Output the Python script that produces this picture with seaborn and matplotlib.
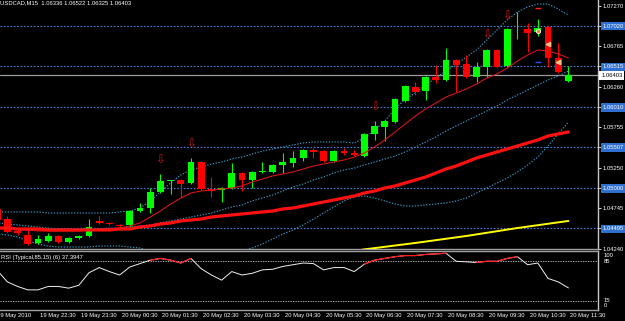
import matplotlib
matplotlib.use("Agg")
import matplotlib.pyplot as plt
import matplotlib.transforms as mtransforms
import numpy as np
import pandas as pd
import seaborn as sns

# ---------------- data ----------------
symbol_header = "USDCAD,M15  1.06336 1.06522 1.06325 1.06403"
rsi_header = "RSI (Typical,85,15) (6) 37.3947"
first_date_label = "19 May 2010"

bar_times = pd.date_range("2010-05-19 21:30", "2010-05-20 11:30", freq="15min")

opens = [1.04738, 1.04613, 1.04464, 1.04414, 1.04315, 1.04340, 1.04402, 1.04327, 1.04377, 1.04402,
         1.04589, 1.04564, 1.04539, 1.04539, 1.04713, 1.04750, 1.04950, 1.05085, 1.05099, 1.05062,
         1.05323, 1.04987, 1.04975, 1.04999, 1.05186, 1.05099, 1.05199, 1.05199, 1.05286, 1.05311,
         1.05373, 1.05473, 1.05460, 1.05336, 1.05460, 1.05435, 1.05398, 1.05672, 1.05759, 1.05821,
         1.06083, 1.06257, 1.06207, 1.06381, 1.06344, 1.06593, 1.06543, 1.06381, 1.06506, 1.06718,
         1.06518, 1.06973, 1.06979, 1.06942, 1.07004, 1.06618, 1.06336]
highs = [1.04763, 1.04651, 1.04489, 1.04477, 1.04414, 1.04439, 1.04414, 1.04389, 1.04414, 1.04613,
         1.04651, 1.04576, 1.04551, 1.04726, 1.04813, 1.04999, 1.05174, 1.05099, 1.05111, 1.05373,
         1.05336, 1.05136, 1.05012, 1.05311, 1.05199, 1.05211, 1.05323, 1.05298, 1.05435, 1.05460,
         1.05485, 1.05497, 1.05473, 1.05473, 1.05497, 1.05473, 1.05684, 1.05834, 1.05846, 1.06120,
         1.06282, 1.06319, 1.06394, 1.06531, 1.06742, 1.06605, 1.06655, 1.06568, 1.06730, 1.06730,
         1.06991, 1.07191, 1.07054, 1.07103, 1.07016, 1.06805, 1.06522]
lows = [1.04576, 1.04439, 1.04414, 1.04290, 1.04302, 1.04327, 1.04315, 1.04315, 1.04364, 1.04389,
        1.04551, 1.04539, 1.04501, 1.04514, 1.04701, 1.04688, 1.04937, 1.04925, 1.04887, 1.05049,
        1.04975, 1.04887, 1.04825, 1.04987, 1.04962, 1.04999, 1.05186, 1.05186, 1.05186, 1.05261,
        1.05336, 1.05373, 1.05323, 1.05323, 1.05410, 1.05398, 1.05385, 1.05597, 1.05585, 1.05809,
        1.06070, 1.06157, 1.06095, 1.06307, 1.06332, 1.06195, 1.06369, 1.06319, 1.06381, 1.06493,
        1.06506, 1.06854, 1.06693, 1.06892, 1.06506, 1.06431, 1.06325]
closes = [1.04601, 1.04452, 1.04439, 1.04302, 1.04364, 1.04402, 1.04327, 1.04377, 1.04402, 1.04514,
          1.04564, 1.04551, 1.04526, 1.04713, 1.04750, 1.04950, 1.05087, 1.05099, 1.05049, 1.05323,
          1.04987, 1.04962, 1.04999, 1.05186, 1.05099, 1.05199, 1.05211, 1.05286, 1.05323, 1.05373,
          1.05473, 1.05448, 1.05336, 1.05460, 1.05435, 1.05410, 1.05672, 1.05771, 1.05834, 1.06107,
          1.06269, 1.06195, 1.06381, 1.06344, 1.06593, 1.06531, 1.06381, 1.06506, 1.06718, 1.06506,
          1.06979, 1.06979, 1.06929, 1.06991, 1.06618, 1.06444, 1.06403]

ma_fast = [1.04489, 1.04489, 1.04477, 1.04477, 1.04464, 1.04464, 1.04464, 1.04464, 1.04464, 1.04477,
           1.04477, 1.04489, 1.04501, 1.04526, 1.04564, 1.04638, 1.04713, 1.04800, 1.04875, 1.04937,
           1.04962, 1.04975, 1.04987, 1.04999, 1.05025, 1.05074, 1.05111, 1.05149, 1.05174, 1.05199,
           1.05236, 1.05273, 1.05298, 1.05323, 1.05348, 1.05385, 1.05435, 1.05510, 1.05597, 1.05697,
           1.05796, 1.05896, 1.05983, 1.06057, 1.06132, 1.06182, 1.06232, 1.06294, 1.06369, 1.06419,
           1.06493, 1.06581, 1.06655, 1.06718, 1.06705, 1.06668, 1.06618]
ma_slow = [1.04501, 1.04501, 1.04489, 1.04489, 1.04489, 1.04477, 1.04477, 1.04477, 1.04477, 1.04477,
           1.04477, 1.04477, 1.04489, 1.04489, 1.04514, 1.04526, 1.04551, 1.04564, 1.04589, 1.04601,
           1.04613, 1.04638, 1.04651, 1.04663, 1.04676, 1.04688, 1.04701, 1.04713, 1.04738, 1.04750,
           1.04775, 1.04800, 1.04825, 1.04850, 1.04875, 1.04900, 1.04937, 1.04962, 1.04999, 1.05025,
           1.05062, 1.05099, 1.05136, 1.05186, 1.05236, 1.05273, 1.05323, 1.05373, 1.05410, 1.05448,
           1.05485, 1.05522, 1.05560, 1.05597, 1.05647, 1.05672, 1.05697]
ma_long_times = ["2010-05-20 05:15", "2010-05-20 06:30", "2010-05-20 07:45",
                 "2010-05-20 09:00", "2010-05-20 10:15", "2010-05-20 11:30"]
ma_long = [1.04130, 1.04235, 1.04315, 1.04402, 1.04501, 1.04589]

band_upper = [1.04701, 1.04701, 1.04701, 1.04701, 1.04701, 1.04688, 1.04688, 1.04688, 1.04688, 1.04688,
              1.04688, 1.04688, 1.04701, 1.04713, 1.04750, 1.04838, 1.04950, 1.05062, 1.05161, 1.05224,
              1.05261, 1.05298, 1.05323, 1.05360, 1.05385, 1.05423, 1.05460, 1.05485, 1.05510, 1.05535,
              1.05560, 1.05572, 1.05572, 1.05572, 1.05572, 1.05560, 1.05622, 1.05722, 1.05834, 1.05983,
              1.06107, 1.06182, 1.06282, 1.06369, 1.06456, 1.06543, 1.06630, 1.06718, 1.06842, 1.06967,
              1.07091, 1.07191, 1.07253, 1.07290, 1.07290, 1.07228, 1.07153]
band_mid = [1.04564, 1.04551, 1.04539, 1.04526, 1.04514, 1.04501, 1.04489, 1.04489, 1.04489, 1.04489,
            1.04489, 1.04501, 1.04501, 1.04514, 1.04526, 1.04539, 1.04564, 1.04589, 1.04613, 1.04638,
            1.04663, 1.04688, 1.04726, 1.04763, 1.04788, 1.04838, 1.04875, 1.04912, 1.04962, 1.05012,
            1.05049, 1.05099, 1.05136, 1.05186, 1.05224, 1.05248, 1.05286, 1.05323, 1.05360, 1.05398,
            1.05448, 1.05510, 1.05572, 1.05634, 1.05709, 1.05771, 1.05834, 1.05896, 1.05958, 1.06020,
            1.06095, 1.06157, 1.06220, 1.06282, 1.06344, 1.06394, 1.06456]
band_lower = [1.04427, 1.04414, 1.04389, 1.04340, 1.04302, 1.04277, 1.04265, 1.04265, 1.04265, 1.04265,
              1.04277, 1.04277, 1.04277, 1.04265, 1.04252, 1.04215, 1.04165, 1.04115, 1.04078, 1.04053,
              1.04053, 1.04078, 1.04115, 1.04165, 1.04215, 1.04252, 1.04302, 1.04364, 1.04427, 1.04477,
              1.04539, 1.04613, 1.04688, 1.04763, 1.04838, 1.04887, 1.04900, 1.04875, 1.04838, 1.04800,
              1.04775, 1.04775, 1.04788, 1.04800, 1.04813, 1.04838, 1.04875, 1.04937, 1.04999, 1.05062,
              1.05124, 1.05199, 1.05286, 1.05385, 1.05522, 1.05672, 1.05821]

rsi_values = [68, 48, 40, 34, 34, 40, 40, 37, 42, 64, 73,
              66, 60, 74, 80, 86, 89, 86, 81, 89, 71,
              60, 51, 66, 60, 63, 69, 70, 75, 78, 81,
              80, 69, 73, 73, 66, 79, 86, 89, 92, 94,
              94, 96, 97, 98, 84, 83, 82, 84, 84, 89,
              92, 78, 81, 54, 48, 37.3947]
rsi_red_ranges = [("2010-05-20 01:15", "2010-05-20 02:15"),
                  ("2010-05-20 06:30", "2010-05-20 08:30"),
                  ("2010-05-20 09:15", "2010-05-20 10:15")]
rsi_levels = [85, 15]
rsi_tick_values = [100, 85, 15, 0]
rsi_tick_labels = ["100", "85", "15", "0"]

arrow_times = ["2010-05-20 01:30", "2010-05-20 02:15", "2010-05-20 06:45",
               "2010-05-20 09:30", "2010-05-20 10:00"]
arrow_prices = [1.05348, 1.05547, 1.06008, 1.06904, 1.07141]
circle_time, circle_price = "2010-05-20 10:45", 1.06954
tri_times = ["2010-05-20 11:00", "2010-05-20 11:15"]
tri_prices = [1.06792, 1.06568]
dash_time = "2010-05-20 10:45"
dash_red_price, dash_blue_price = 1.07240, 1.06568

price_ticks = [1.07270, 1.07020, 1.06765, 1.06515, 1.06260, 1.06010, 1.05755,
               1.05507, 1.05250, 1.05000, 1.04745, 1.04495, 1.04240]
level_prices = [1.07020, 1.06515, 1.06010, 1.05507, 1.05000, 1.04495]
current_price = 1.06403

time_tick_times = ["2010-05-19 22:30", "2010-05-19 23:30", "2010-05-20 00:30", "2010-05-20 01:30",
                   "2010-05-20 02:30", "2010-05-20 03:30", "2010-05-20 04:30", "2010-05-20 05:30",
                   "2010-05-20 06:30", "2010-05-20 07:30", "2010-05-20 08:30", "2010-05-20 09:30",
                   "2010-05-20 10:30", "2010-05-20 11:30"]
time_tick_labels = ["19 May 22:30", "19 May 23:30", "20 May 00:30", "20 May 01:30",
                    "20 May 02:30", "20 May 03:30", "20 May 04:30", "20 May 05:30",
                    "20 May 06:30", "20 May 07:30", "20 May 08:30", "20 May 09:30",
                    "20 May 10:30", "20 May 11:30"]

# ---------------- style ----------------
sns.set_theme(style="dark", rc={"axes.facecolor": "black", "figure.facecolor": "black",
                                "text.color": "white", "xtick.color": "white",
                                "ytick.color": "white", "axes.grid": False})
plt.rcParams["font.family"] = ["Liberation Sans", "DejaVu Sans"]

W, H = 625, 321
FS = 4.2
fig = plt.figure(figsize=(W / 100, H / 100), dpi=100)
fig.patch.set_facecolor("black")


def px_rect(x0, y0, x1, y1):
    return [x0 / W, 1 - y1 / H, (x1 - x0) / W, (y1 - y0) / H]


ax = fig.add_axes(px_rect(0, 0, 598, 249.3))
axr = fig.add_axes(px_rect(0, 251, 598, 310))

pos = {t: i for i, t in enumerate(bar_times)}
def P(t):
    return pos[pd.Timestamp(t)]

k = np.arange(len(bar_times))
XL = (0.275, 58.9)

# level lines & current price
for p in level_prices:
    ax.axhline(p, color="#4d7fd8", lw=0.8, ls=(0, (1.5, 1.5)), zorder=1)
ax.axhline(current_price, color="#9c9c9c", lw=0.9, zorder=1.5)

# bands (dotted)
band_kw = dict(color="#3f9ccc", lw=0.8, linestyle=(0, (1.2, 1.4)), zorder=2)
for series in (band_upper, band_mid, band_lower):
    sns.lineplot(x=k, y=series, ax=ax, **band_kw)

# candles
o = np.array(opens); c = np.array(closes); h = np.array(highs); l = np.array(lows)
up = c >= o
cols = np.where(up, "#00ff00", "#ff0000")
ax.vlines(k, l, h, colors=cols, lw=0.8, zorder=3)
body_lo = np.minimum(o, c)
body_h = np.maximum(np.abs(c - o), 0.00010)
ax.bar(k, body_h, bottom=body_lo, width=0.68, color=cols, linewidth=0, zorder=4)

# moving averages
sns.lineplot(x=k, y=ma_fast, ax=ax, color="#e01515", lw=0.75, zorder=5)
sns.lineplot(x=k, y=ma_slow, ax=ax, color="#ff1010", lw=2.3, zorder=5)
sns.lineplot(x=[P(t) for t in ma_long_times], y=ma_long, ax=ax, color="#ffff00", lw=1.4, zorder=5)

# signal markers
for t, p in zip(arrow_times, arrow_prices):
    ax.text(P(t), p, "\u21e9", color="#d01818", fontsize=8.5, ha="center", va="center",
            family="DejaVu Sans", zorder=6)
ax.plot(P(circle_time), circle_price, "o", ms=3.0, mfc="#f08030", mec="white", mew=0.6, zorder=6)
ax.plot([P(t) for t in tri_times], tri_prices, "<", ms=3.2, color="#f6c08e", lw=0, zorder=6)
ax.plot(P(dash_time), dash_red_price, "_", ms=4, mew=1, color="#ff2020", zorder=6)
ax.plot(P(dash_time), dash_blue_price, "_", ms=4, mew=1, color="#3050ff", zorder=6)

ax.set_xlim(*XL)
ax.set_ylim(1.04236, 1.07340)
ax.set_xticks([])
ax.yaxis.tick_right()
ax.set_yticks(price_ticks)
ax.set_yticklabels([f"{p:.5f}" for p in price_ticks])
ax.tick_params(axis="y", colors="white", labelsize=FS, length=2, width=0.6, pad=1.2, direction="out")
for lbl, p in zip(ax.get_yticklabels(), price_ticks):
    if p in level_prices:
        lbl.set_bbox(dict(boxstyle="square,pad=0.3", fc="#2f6fd0", ec="none"))
ax.annotate(f"{current_price:.5f}", xy=(1, current_price), xycoords=("axes fraction", "data"),
            xytext=(3.2, 0), textcoords="offset pixels", ha="left", va="center",
            fontsize=FS, color="black", annotation_clip=False,
            bbox=dict(boxstyle="square,pad=0.3", fc="white", ec="none"))
for s in ("left", "top"):
    ax.spines[s].set_visible(False)
ax.spines["right"].set_color("#c8c8c8"); ax.spines["right"].set_linewidth(1.0)
ax.spines["bottom"].set_color("#a0a0a0"); ax.spines["bottom"].set_linewidth(1.0)

# ---------------- RSI panel ----------------
rsi = np.array(rsi_values, dtype=float)
for lv in rsi_levels:
    axr.axhline(lv, color="#d0d0d0", lw=0.6, ls=(0, (1.5, 1.5)), zorder=1)
sns.lineplot(x=k, y=rsi, ax=axr, color="#f0f0f0", lw=0.7, zorder=3)
for t0, t1 in rsi_red_ranges:
    s = slice(P(t0), P(t1) + 1)
    sns.lineplot(x=k[s], y=rsi[s], ax=axr, color="#ff1a1a", lw=0.9, zorder=4)
axr.set_xlim(*XL)
axr.set_ylim(-1.2, 102)
axr.yaxis.tick_right()
axr.set_yticks(rsi_tick_values)
axr.set_yticklabels(rsi_tick_labels)
axr.tick_params(axis="y", colors="white", labelsize=FS, length=0, pad=4)
shifts = {"100": -3.0, "85": 0.0, "15": 1.2, "0": 4.5}
for lbl in axr.get_yticklabels():
    dy = shifts.get(lbl.get_text(), 0) / 100
    lbl.set_transform(lbl.get_transform() + mtransforms.ScaledTranslation(0, dy, fig.dpi_scale_trans))
axr.set_xticks([P(t) for t in time_tick_times])
axr.set_xticklabels(time_tick_labels)
axr.tick_params(axis="x", colors="white", labelsize=FS, length=3, width=0.6, pad=-0.5, direction="out")
for lbl in axr.get_xticklabels():
    lbl.set_ha("left")
    lbl.set_transform(lbl.get_transform() + mtransforms.ScaledTranslation(2 / 100, 0, fig.dpi_scale_trans))
axr.spines["left"].set_visible(False)
for s in ("top", "bottom"):
    axr.spines[s].set_color("#a0a0a0"); axr.spines[s].set_linewidth(1.0)
axr.spines["right"].set_color("#c8c8c8"); axr.spines["right"].set_linewidth(1.0)
axr.set_xlabel(""); axr.set_ylabel(""); ax.set_xlabel(""); ax.set_ylabel("")

# ---------------- texts ----------------
fig.text(0.5 / W, 1 - 0.5 / H, symbol_header, ha="left", va="top", fontsize=FS, color="white")
fig.text(1 / W, 1 - 254.5 / H, rsi_header, ha="left", va="top", fontsize=FS, color="white")
fig.text(-3 / W, 1 - 312.5 / H, first_date_label, ha="left", va="top", fontsize=FS, color="white")

fig.savefig("out.png", dpi=100, facecolor="black")
